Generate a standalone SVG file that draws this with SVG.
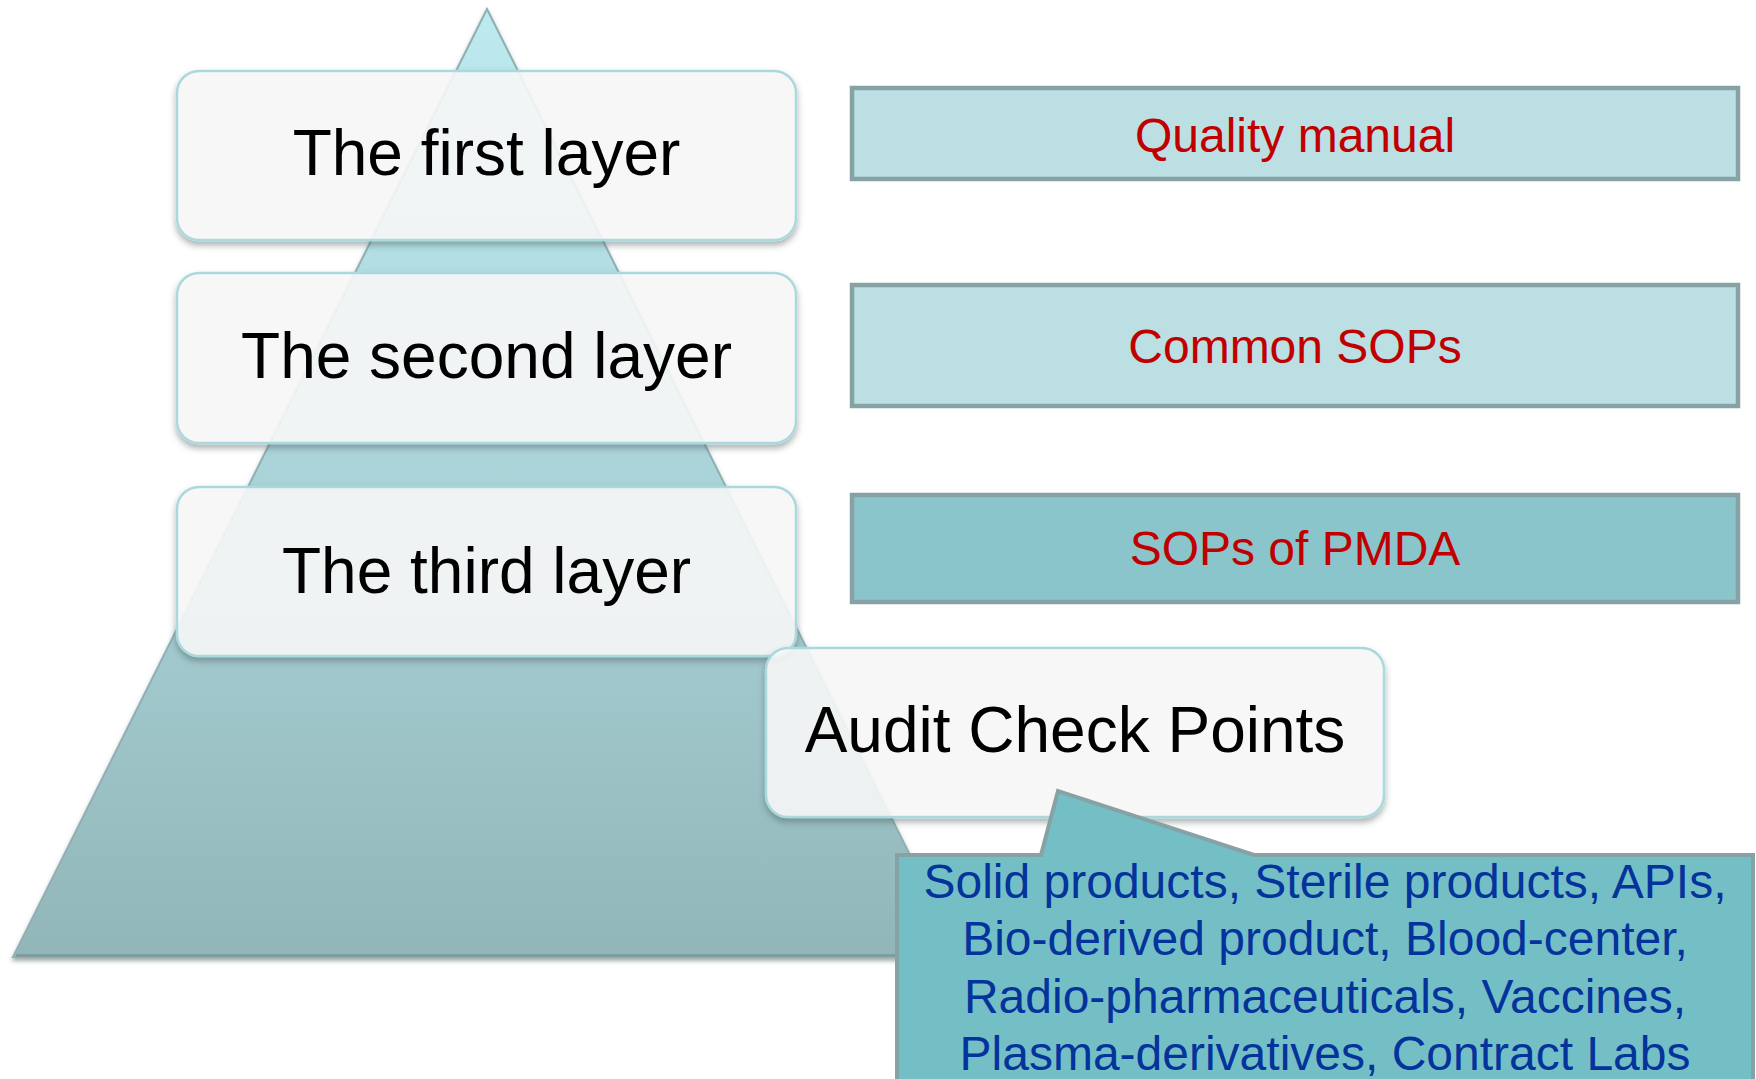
<svg xmlns="http://www.w3.org/2000/svg" width="1756" height="1079" viewBox="0 0 1756 1079">
  <defs>
    <linearGradient id="pyrFill" x1="0" y1="0" x2="0" y2="1">
      <stop offset="0" stop-color="#bdeaef"/>
      <stop offset="0.45" stop-color="#acd6db"/>
      <stop offset="1" stop-color="#92b6b8"/>
    </linearGradient>
    <!-- shadow kept outside the shape so it does not tint translucent fills -->
    <filter id="shadow" x="-10%" y="-10%" width="120%" height="130%">
      <feGaussianBlur in="SourceAlpha" stdDeviation="3" result="blur"/>
      <feOffset in="blur" dx="0" dy="4" result="off"/>
      <feComposite in="off" in2="SourceAlpha" operator="out" result="outside"/>
      <feFlood flood-color="#4a5a5c" flood-opacity="0.5"/>
      <feComposite in2="outside" operator="in" result="sh"/>
      <feMerge>
        <feMergeNode in="sh"/>
        <feMergeNode in="SourceGraphic"/>
      </feMerge>
    </filter>
    <filter id="baseShadow" x="-10%" y="-10%" width="120%" height="120%">
      <feDropShadow dx="0" dy="3" stdDeviation="2" flood-color="#3f5253" flood-opacity="0.5"/>
    </filter>
  </defs>
  <style>
    .layer { fill: #f7f7f7; fill-opacity: 0.9; stroke: #aad9dd; stroke-width: 2.5; filter: url(#shadow); }
    .layerText { font-family: "Liberation Sans", Arial, sans-serif; font-size: 64px; fill: #000000; text-anchor: middle; }
    .doc { stroke: #87a2a5; stroke-width: 4.5; }
    .docText { font-family: "Liberation Sans", Arial, sans-serif; font-size: 48px; fill: #c00000; text-anchor: middle; }
    .calloutText { font-family: "Liberation Sans", Arial, sans-serif; font-size: 48px; fill: #04339c; text-anchor: middle; }
  </style>

  <rect width="1756" height="1079" fill="#ffffff"/>

  <!-- pyramid -->
  <g id="pyramid">
    <polygon points="487,9 961,957 13,957" fill="url(#pyrFill)" stroke="#8fb0b2" stroke-width="2" filter="url(#baseShadow)"/>
    <line x1="16" y1="955.5" x2="958" y2="955.5" stroke="#7d9ea0" stroke-width="3"/>
  </g>

  <!-- layer labels over the pyramid -->
  <g id="layer1">
    <rect class="layer" x="177" y="71" width="619" height="169" rx="22"/>
    <text class="layerText" x="486.5" y="175">The first layer</text>
  </g>
  <g id="layer2">
    <rect class="layer" x="177" y="273" width="619" height="170" rx="22"/>
    <text class="layerText" x="486.5" y="378">The second layer</text>
  </g>
  <g id="layer3">
    <rect class="layer" x="177" y="487" width="619" height="169" rx="22"/>
    <text class="layerText" x="486.5" y="593">The third layer</text>
  </g>
  <g id="audit">
    <rect class="layer" x="766" y="648" width="618" height="169" rx="22"/>
    <text class="layerText" x="1075" y="752">Audit Check Points</text>
  </g>

  <!-- document boxes -->
  <g id="qualityManual">
    <rect class="doc" x="852" y="88" width="886" height="91" fill="#bbdfe2"/>
    <text class="docText" x="1295" y="152">Quality manual</text>
  </g>
  <g id="commonSOPs">
    <rect class="doc" x="852" y="285" width="886" height="121" fill="#bbdfe2"/>
    <text class="docText" x="1295" y="363">Common SOPs</text>
  </g>
  <g id="pmdaSOPs">
    <rect class="doc" x="852" y="495" width="886" height="107" fill="#8bc5cc"/>
    <text class="docText" x="1295" y="565">SOPs of PMDA</text>
  </g>

  <!-- callout listing product categories -->
  <g id="categories">
    <path d="M1041,855 L1058,791 L1254,855 L1753,855 L1753,1090 L897,1090 L897,855 Z" fill="#74bfc5" stroke="#87a2a5" stroke-width="4"/>
    <text class="calloutText" x="1325" y="898">Solid products, Sterile products, APIs,</text>
    <text class="calloutText" x="1325" y="955">Bio-derived product, Blood-center,</text>
    <text class="calloutText" x="1325" y="1013">Radio-pharmaceuticals, Vaccines,</text>
    <text class="calloutText" x="1325" y="1070">Plasma-derivatives, Contract Labs</text>
  </g>

  <g id="connectors"/>
</svg>
